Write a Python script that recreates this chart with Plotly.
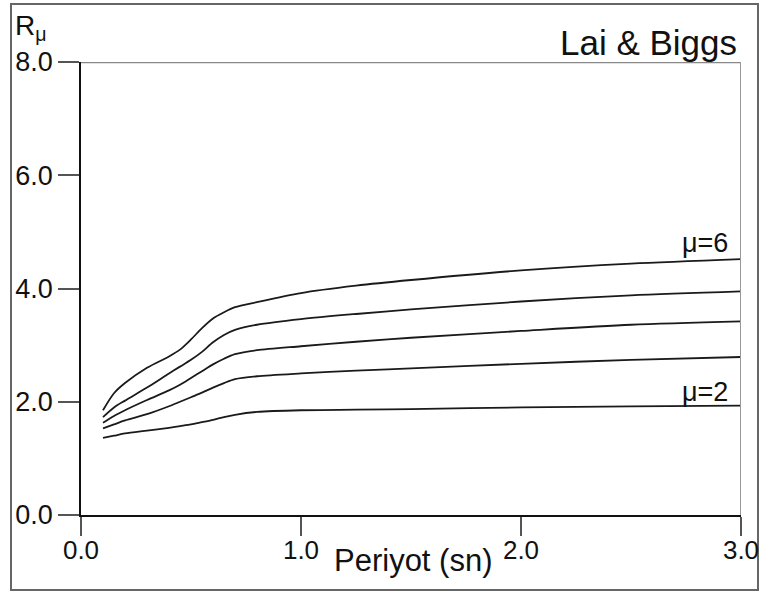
import plotly.graph_objects as go

# Period (s) sample points
T = [0.1, 0.15, 0.2, 0.3, 0.4, 0.45, 0.5, 0.55, 0.6, 0.65, 0.7, 0.8, 1.0, 1.25, 1.5, 2.0, 2.5, 3.0]

mu6 = [1.85, 2.15, 2.33, 2.60, 2.80, 2.92, 3.10, 3.30, 3.47, 3.58, 3.67, 3.76, 3.92, 4.05, 4.15, 4.32, 4.44, 4.52]
mu5 = [1.73, 1.90, 2.02, 2.25, 2.50, 2.62, 2.74, 2.88, 3.05, 3.18, 3.27, 3.36, 3.46, 3.55, 3.63, 3.77, 3.88, 3.95]
mu4 = [1.63, 1.75, 1.85, 2.03, 2.20, 2.30, 2.42, 2.54, 2.66, 2.76, 2.84, 2.91, 2.98, 3.06, 3.13, 3.25, 3.36, 3.42]
mu3 = [1.53, 1.60, 1.67, 1.78, 1.92, 2.00, 2.08, 2.16, 2.25, 2.33, 2.40, 2.45, 2.50, 2.55, 2.59, 2.67, 2.74, 2.79]
mu2 = [1.36, 1.40, 1.44, 1.49, 1.54, 1.57, 1.60, 1.64, 1.68, 1.73, 1.77, 1.82, 1.85, 1.86, 1.87, 1.90, 1.92, 1.93]

series = [mu6, mu5, mu4, mu3, mu2]

xtick_vals = [0, 1, 2, 3]
xtick_text = ["0.0", "1.0", "2.0", "3.0"]
ytick_vals = [0, 2, 4, 6, 8]
ytick_text = ["0.0", "2.0", "4.0", "6.0", "8.0"]

FONT = "Liberation Sans, Arial, sans-serif"

fig = go.Figure()
for s in series:
    fig.add_trace(go.Scatter(x=T, y=s, mode="lines", line=dict(color="#1a1a1a", width=1.8, shape="spline", smoothing=0.8),
                             hoverinfo="skip", showlegend=False))

fig.update_layout(
    width=761, height=595, autosize=False,
    margin=dict(l=81, r=20, t=62, b=80, pad=0),
    paper_bgcolor="white", plot_bgcolor="white",
    font=dict(family=FONT, color="#111", size=26),
    showlegend=False,
)
fig.update_xaxes(range=[0, 3], tickvals=xtick_vals, ticktext=xtick_text, ticks="outside", ticklen=19,
                 tickcolor="#555", tickwidth=1.5, showline=True, linecolor="#111", linewidth=1.5,
                 showgrid=False, zeroline=False, tickfont=dict(size=26, family=FONT),
                 automargin=False, ticklabelstandoff=-8)
fig.update_yaxes(range=[0, 8], tickvals=ytick_vals, ticktext=ytick_text, ticks="outside", ticklen=21,
                 tickcolor="#555", tickwidth=1.5, showline=True, linecolor="#111", linewidth=1.5,
                 showgrid=False, zeroline=False, tickfont=dict(size=27, family=FONT), automargin=False)

# top and right plot borders (gray)
fig.add_shape(type="line", xref="x", yref="y", x0=0, x1=3, y0=8, y1=8, line=dict(color="#888", width=2.5))
fig.add_shape(type="line", xref="x", yref="y", x0=3, x1=3, y0=0, y1=8, line=dict(color="#999", width=2))

# outer frame
fig.add_shape(type="rect", xref="paper", yref="paper",
              x0=(11 - 81) / 660, x1=(758 - 81) / 660, y0=(515 - 590) / 453, y1=(515 - 4) / 453,
              line=dict(color="#666", width=2), fillcolor="rgba(0,0,0,0)", layer="below")

fig.add_annotation(text="Lai &amp; Biggs", xref="paper", yref="paper", x=(739 - 81) / 660, y=(515 - 42) / 453,
                   xanchor="right", yanchor="middle", showarrow=False, font=dict(size=35, family=FONT))
fig.add_annotation(text="R<sub>μ</sub>", xref="paper", yref="paper", x=(13 - 81) / 660, y=(515 - 27) / 453,
                   xanchor="left", yanchor="middle", showarrow=False, font=dict(size=28, family=FONT))
fig.add_annotation(text="Periyot (sn)", xref="paper", yref="paper", x=(413 - 81) / 660, y=(515 - 560) / 453,
                   xanchor="center", yanchor="middle", showarrow=False, font=dict(size=31, family=FONT))
fig.add_annotation(text="μ=6", xref="x", yref="y", x=2.836, y=4.80,
                   xanchor="center", yanchor="middle", showarrow=False, font=dict(size=27, family=FONT))
fig.add_annotation(text="μ=2", xref="x", yref="y", x=2.836, y=2.18,
                   xanchor="center", yanchor="middle", showarrow=False, font=dict(size=27, family=FONT))

fig.write_html("out.html")
